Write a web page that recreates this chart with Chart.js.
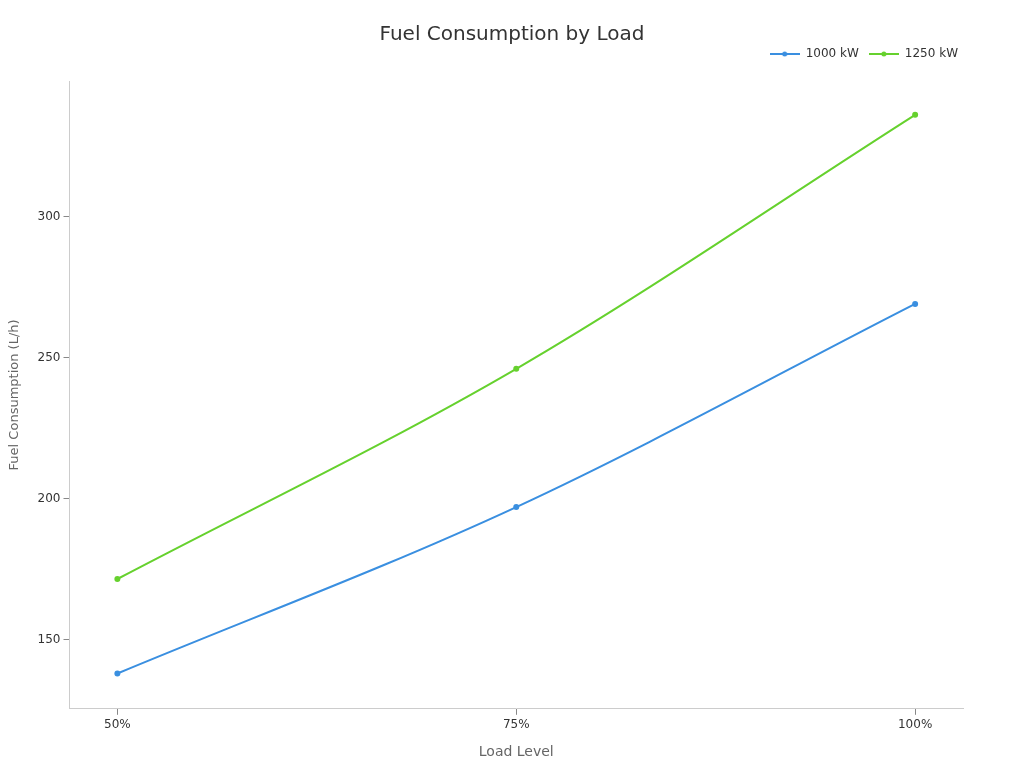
<!DOCTYPE html>
<html>
<head>
<meta charset="utf-8">
<script src="https://cdn.jsdelivr.net/npm/chart.js@4/dist/chart.umd.min.js"></script>
<style>
  html, body { margin: 0; padding: 0; background: #fff; }
  #wrap { width: 1024px; height: 768px; position: relative; }
  #title {
    position: absolute; top: 21px; left: 0; width: 1024px;
    text-align: center; font: 20px 'DejaVu Sans', sans-serif; color: #333;
  }
</style>
</head>
<body>
<div id="wrap">
  <div id="title">Fuel Consumption by Load</div>
  <canvas id="chart"></canvas>
</div>
<script>
// ── Data ──────────────────────────────────────────────────────────────────
const loadLevels = [50, 75, 100];          // % load
const fuel1000   = [138, 197, 269];        // L/h, 1000 kW
const fuel1250   = [171.5, 246, 336];      // L/h, 1250 kW
const seriesNames  = ["1000 kW", "1250 kW"];
const seriesColors = ["#3a8fe0", "#66d12e"];
const yTicks     = [150, 200, 250, 300];

const FONT = "'DejaVu Sans', sans-serif";

function toPoints(vals) {
  return loadLevels.map((x, i) => ({ x, y: vals[i] }));
}

// legend swatch: short line with a dot in the middle
function swatch(color) {
  const c = document.createElement("canvas");
  c.width = 30; c.height = 8;
  const g = c.getContext("2d");
  g.strokeStyle = color; g.lineWidth = 2;
  g.beginPath(); g.moveTo(0, 4); g.lineTo(30, 4); g.stroke();
  g.fillStyle = color;
  g.beginPath(); g.arc(15, 4, 2.5, 0, Math.PI * 2); g.fill();
  return c;
}

const series = [fuel1000, fuel1250].map((vals, i) => ({
  label: seriesNames[i],
  data: toPoints(vals),
  borderColor: seriesColors[i],
  backgroundColor: seriesColors[i],
  borderWidth: 2,
  pointRadius: 2,
  pointHoverRadius: 2,
  tension: 0.4,
  cubicInterpolationMode: "monotone",
  pointStyle: "circle",
}));

// extra gap between legend and plot, legend nudged right
const legendGap = {
  id: "legendGap",
  beforeInit(chart) {
    const fit = chart.legend.fit;
    chart.legend.fit = function () {
      fit.bind(chart.legend)();
      this.height += 11;
    };
  },
  afterLayout(chart) {
    chart.legend.left += 5;
    chart.legend.right += 5;
  },
};

new Chart(document.getElementById("chart"), {
  type: "line",
  data: { datasets: series },
  plugins: [legendGap],
  options: {
    responsive: true,
    maintainAspectRatio: false,
    animation: false,
    layout: { padding: { top: 38, right: 61, left: 7, bottom: 0 } },
    plugins: {
      title: { display: false },
      legend: {
        align: "end",
        labels: {
          color: "#333",
          font: { family: FONT, size: 12 },
          usePointStyle: true,
          pointStyleWidth: 30,
          boxHeight: 8,
          padding: 10,
          generateLabels: chart => chart.data.datasets.map((ds, i) => ({
            text: ds.label,
            pointStyle: swatch(seriesColors[i]),
            fontColor: "#333",
            strokeStyle: seriesColors[i],
            fillStyle: seriesColors[i],
            lineWidth: 0,
            datasetIndex: i,
          })),
        },
      },
      tooltip: { enabled: false },
    },
    scales: {
      x: {
        type: "linear",
        min: 47,
        max: 103,
        afterBuildTicks: axis => { axis.ticks = loadLevels.map(v => ({ value: v })); },
        grid: { display: true, drawOnChartArea: false, drawTicks: true, tickLength: 6, tickColor: "#888" },
        border: { color: "#ccc" },
        ticks: {
          color: "#333",
          font: { family: FONT, size: 12 },
          callback: v => v + "%",
          padding: 3,
        },
        title: {
          display: true,
          text: "Load Level",
          color: "#666",
          font: { family: FONT, size: 14 },
          padding: { top: 9, bottom: 7 },
        },
      },
      y: {
        min: 125.5,
        max: 348,
        afterBuildTicks: axis => { axis.ticks = yTicks.map(v => ({ value: v })); },
        grid: { display: true, drawOnChartArea: false, drawTicks: true, tickLength: 6, tickColor: "#888" },
        border: { color: "#ccc" },
        ticks: {
          color: "#333",
          font: { family: FONT, size: 12 },
          padding: 3,
        },
        title: {
          display: true,
          text: "Fuel Consumption (L/h)",
          color: "#666",
          font: { family: FONT, size: 13 },
          padding: { top: 0, bottom: 12 },
        },
      },
    },
  },
});
</script>
</body>
</html>
